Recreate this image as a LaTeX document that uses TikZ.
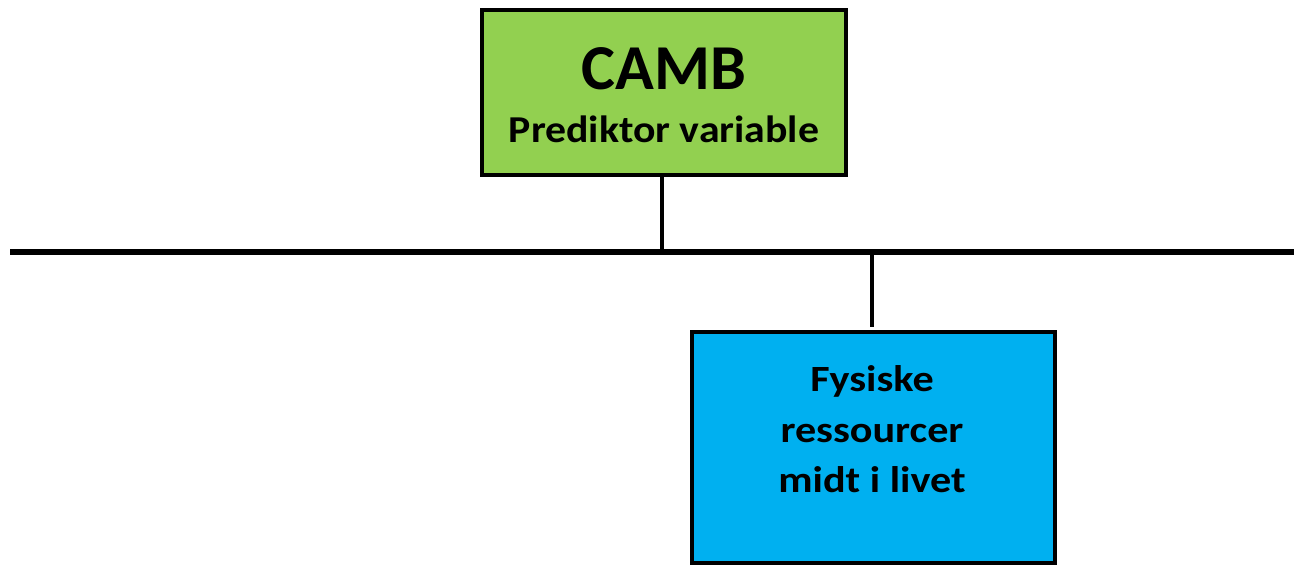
\documentclass[tikz,border=0pt]{standalone}
\usepackage{fontspec}
\setmainfont{Carlito}
\definecolor{boxgreen}{HTML}{92D050}
\definecolor{boxblue}{HTML}{00B0F0}
\tikzset{
  box/.style={draw=black, line width=4pt, rectangle, inner sep=0pt},
  conn/.style={line width=4pt},
  bus/.style={line width=5.5pt},
  lbl/.style={inner sep=0pt, font=\bfseries, text=black, anchor=base},
  bigfont/.style={font=\bfseries\fontsize{64}{70}\selectfont},
  midfont/.style={font=\bfseries\fontsize{38}{44}\selectfont},
  bluefont/.style={font=\bfseries\fontsize{37}{44}\selectfont},
}
\begin{document}
\begin{tikzpicture}[x=1pt,y=-1pt]
\useasboundingbox (0,0) rectangle (1294,566);
\node[box, fill=boxgreen, minimum width=364pt, minimum height=165pt] (green) at (664,92.5) {};
\node[box, fill=boxblue, minimum width=363pt, minimum height=231pt] (blue) at (873.5,447.5) {};
\node[lbl, bigfont] (t1) at (664,89) {CAMB};
\node[lbl, midfont] (t2) at (664,142) {\scalebox{1.1}[1]{Prediktor variable}};
\node[lbl, bluefont] (t3) at (872,391) {\scalebox{1.14}[1]{Fysiske}};
\node[lbl, bluefont] (t4) at (872,442) {\scalebox{1.14}[1]{ressourcer}};
\node[lbl, bluefont] (t5) at (872,492) {\scalebox{1.14}[1]{midt i livet}};
\coordinate (busL) at (10,252);
\coordinate (busR) at (1294,252);
\coordinate (busA) at (662,252);
\coordinate (busB) at (872,252);
\coordinate (topB) at (872,327);
\draw[bus] (busL) -- (busR);
\draw[conn] (green.south -| busA) -- (busA);
\draw[conn] (busB) -- (topB);
\end{tikzpicture}
\end{document}
